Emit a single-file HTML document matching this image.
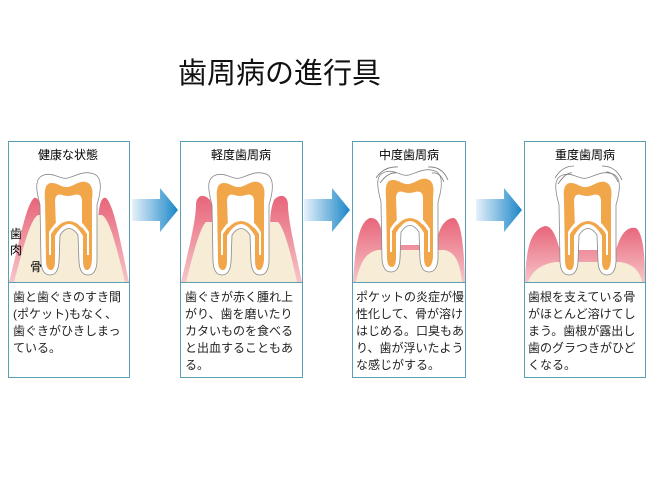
<!DOCTYPE html>
<html><head><meta charset="utf-8"><style>
body{margin:0;background:#fff;width:664px;height:485px;overflow:hidden;font-family:"Liberation Sans","Noto Sans CJK JP",sans-serif}
</style></head><body>
<svg width="664" height="485" viewBox="0 0 664 485" xmlns="http://www.w3.org/2000/svg" font-family="Liberation Sans, Noto Sans CJK JP, sans-serif">
<defs>
<linearGradient id="ar" x1="0" x2="1"><stop offset="0" stop-color="#e6f1fa"/><stop offset="1" stop-color="#1a86c8"/></linearGradient>
<linearGradient id="gum" x1="0" x2="0" y1="0" y2="1"><stop offset="0" stop-color="#e8657a"/><stop offset="1" stop-color="#f6c4c8"/></linearGradient>
<g id="tooth">
<path d="M40,205 C36,190 34,178 44,175 C54,172 60,180 68,178 C76,176 84,170 94,174 C104,178 100,195 97,205 L97,262 Q96,275 88,275 Q80,275 79,262 L78,235 Q69,222 60,235 L59,262 Q58,275 50,275 Q42,275 41,262 Z" fill="#fff" stroke="#888" stroke-width="0.8"/>
<path d="M45,200 C44,188 46,183 52,183 C58,183 62,188 68,187 C74,186 80,180 86,182 C93,184 93,192 92,200 L92,260 Q91,270 87,270 Q83,270 83,260 L83,236 Q69,212 55,236 L55,260 Q55,270 51,270 Q46,270 46,260 Z" fill="#f2a64a"/>
<path d="M55,200 Q56,193 62,195 Q68,197 74,195 Q81,193 82,200 L82,228 Q69,214 56,228 Z M49,255 L49,232 Q69,200 89,232 L89,255 L87,255 L87,234 Q69,206 51,234 L51,255 Z" fill="#fff"/>
</g>
</defs>
<text x="178" y="83" font-size="29" fill="#111">歯周病の進行具</text>

<!-- Panel 1 -->
<rect x="8.5" y="141.5" width="121" height="236" fill="#fff" stroke="#5b9fb5"/>
<path d="M9,282 C20,240 26,205 34,198 C40,196 42,210 42,230 L98,230 C98,210 100,196 106,198 C114,205 120,240 129,282 Z" fill="url(#gum)"/>
<path d="M14,282 C24,245 30,220 38,215 L102,215 C110,220 116,245 125,282 Z" fill="#f7ecd6"/>
<use href="#tooth"/>
<text x="10" y="238" font-size="12">歯</text><text x="10" y="254" font-size="12">肉</text><text x="30" y="271" font-size="12">骨</text>
<line x1="8.5" y1="282.5" x2="129.5" y2="282.5" stroke="#5b9fb5"/>
<text x="68" y="159" font-size="12" text-anchor="middle">健康な状態</text>
<g font-size="12" fill="#222"><text x="13" y="301">歯と歯ぐきのすき間</text><text x="13" y="318">(ポケット)もなく、</text><text x="13" y="335">歯ぐきがひきしまっ</text><text x="13" y="352">ている。</text></g>

<!-- Panel 2 -->
<rect x="180.5" y="141.5" width="122" height="236" fill="#fff" stroke="#5b9fb5"/>
<path d="M181,282 C190,245 196,218 196,205 C196,195 204,193 210,200 C214,210 214,220 214,232 L270,232 C270,220 270,210 274,200 C280,193 288,195 288,205 C288,218 294,245 302,282 Z" fill="url(#gum)"/>
<path d="M186,282 C194,250 200,228 206,222 L278,222 C284,228 290,250 297,282 Z" fill="#f7ecd6"/>
<use href="#tooth" x="172"/>
<line x1="180.5" y1="282.5" x2="302.5" y2="282.5" stroke="#5b9fb5"/>
<text x="241" y="159" font-size="12" text-anchor="middle">軽度歯周病</text>
<g font-size="12" fill="#222"><text x="185" y="301">歯ぐきが赤く腫れ上</text><text x="185" y="318">がり、歯を磨いたり</text><text x="185" y="335">カタいものを食べる</text><text x="185" y="352">と出血することもあ</text><text x="185" y="369">る。</text></g>

<!-- Panel 3 -->
<rect x="352.5" y="141.5" width="113" height="236" fill="#fff" stroke="#5b9fb5"/>
<path d="M353,282 C355,250 358,222 370,218 C380,217 382,230 384,245 L436,245 C438,230 444,218 454,218 C462,222 464,250 465,282 Z" fill="url(#gum)"/>
<path d="M356,282 C360,262 366,252 378,250 L444,250 C456,252 460,264 462,282 Z" fill="#f7ecd6"/>
<use href="#tooth" x="341" y="-3"/>
<path d="M376,178 Q384,166 398,167 M380,183 Q388,172 396,173 M428,167 Q442,166 448,180 M432,173 Q440,172 444,182" fill="none" stroke="#777" stroke-width="0.8"/>
<line x1="352.5" y1="282.5" x2="465.5" y2="282.5" stroke="#5b9fb5"/>
<text x="409" y="159" font-size="12" text-anchor="middle">中度歯周病</text>
<g font-size="12" fill="#222"><text x="356" y="301">ポケットの炎症が慢</text><text x="356" y="318">性化して、骨が溶け</text><text x="356" y="335">はじめる。口臭もあ</text><text x="356" y="352">り、歯が浮いたよう</text><text x="356" y="369">な感じがする。</text></g>

<!-- Panel 4 -->
<rect x="524.5" y="141.5" width="121" height="236" fill="#fff" stroke="#5b9fb5"/>
<path d="M525,282 C526,250 530,230 545,226 C552,226 556,236 560,250 L616,250 C620,236 626,226 636,228 C644,234 645,260 645,282 Z" fill="url(#gum)"/>
<path d="M528,282 C532,272 540,264 556,262 L620,262 C634,264 640,272 642,282 Z" fill="#f7ecd6"/>
<use href="#tooth" x="519" y="0"/>
<path d="M555,178 Q562,166 574,166 M558,184 Q566,172 572,173 M602,166 Q616,166 622,180 M606,172 Q614,172 618,182" fill="none" stroke="#777" stroke-width="0.8"/>
<line x1="524.5" y1="282.5" x2="645.5" y2="282.5" stroke="#5b9fb5"/>
<text x="585" y="159" font-size="12" text-anchor="middle">重度歯周病</text>
<g font-size="12" fill="#222"><text x="528" y="301">歯根を支えている骨</text><text x="528" y="318">がほとんど溶けてし</text><text x="528" y="335">まう。歯根が露出し</text><text x="528" y="352">歯のグラつきがひど</text><text x="528" y="369">くなる。</text></g>

<!-- Arrows -->
<path d="M132,199 L160,199 L160,188 L178,210 L160,232 L160,221 L132,221 Z" fill="url(#ar)"/>
<path d="M304,199 L332,199 L332,188 L350,210 L332,232 L332,221 L304,221 Z" fill="url(#ar)"/>
<path d="M476,199 L504,199 L504,188 L522,210 L504,232 L504,221 L476,221 Z" fill="url(#ar)"/>
</svg>
</body></html>
